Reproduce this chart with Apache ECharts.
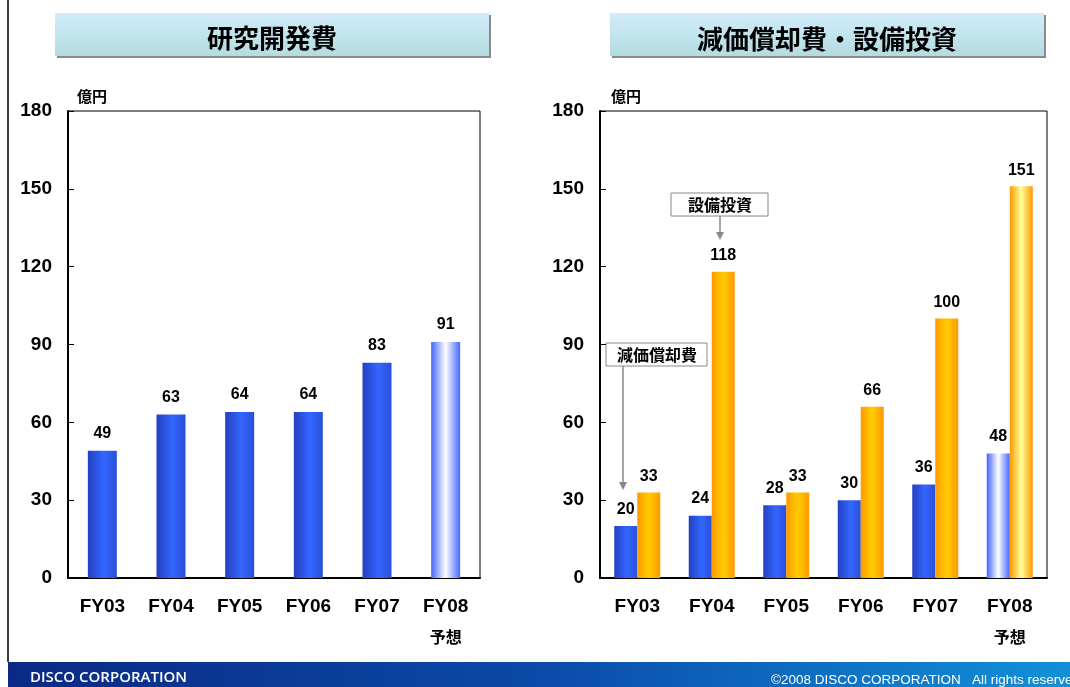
<!DOCTYPE html>
<html><head><meta charset="utf-8">
<script src="https://cdn.jsdelivr.net/npm/echarts@6/dist/echarts.min.js"></script>
<style>html,body{margin:0;padding:0;background:#fff}#c{width:1070px;height:687px}</style>
</head><body><div id="c"></div>
<script>
const categories = ['FY03','FY04','FY05','FY06','FY07','FY08'];
const rdValues = [49, 63, 64, 64, 83, 91];
const depValues = [20, 24, 28, 30, 36, 48];
const capexValues = [33, 118, 33, 66, 100, 151];
const yTicks = [0, 30, 60, 90, 120, 150, 180];

const FONT = '"Liberation Sans", Arial, "Noto Sans CJK JP", sans-serif';
const JFONT = '"Noto Sans CJK JP", sans-serif';

function grad(stops){
  return new echarts.graphic.LinearGradient(0,0,1,0, stops.map(s=>({offset:s[0],color:s[1]})));
}
const blue = grad([[0,'#2440c0'],[0.55,'#3366ff'],[1,'#2a4fd8']]);
const blueF = grad([[0,'#4466ff'],[0.5,'#ffffff'],[1,'#4466ff']]);
const orange = grad([[0,'#ff9900'],[0.5,'#ffcc00'],[1,'#ff9900']]);
const orangeF = grad([[0,'#ff9900'],[0.5,'#ffff99'],[1,'#ff9900']]);

function styled(vals, normal, fc){
  return vals.map((v,i)=>({value:v, itemStyle:{color: i===vals.length-1 ? fc : normal}}));
}

const labelStyle = {show:true, position:'top', color:'#000', fontWeight:'bold', fontSize:16, fontFamily:FONT};

function xAxis(gi){
  return {
    type:'category', gridIndex:gi, data:categories,
    axisLine:{lineStyle:{color:'#000', width:2}},
    axisTick:{inside:true, length:7, interval:0, lineStyle:{color:'#000'}},
    axisLabel:{margin:14, interval:0, color:'#000', fontWeight:'bold', fontSize:19, fontFamily:FONT,
      formatter:function(v){ return v==='FY08' ? '{a|FY08}\n{b|予想}' : '{a|'+v+'}'; },
      rich:{a:{fontWeight:'bold',fontSize:19,fontFamily:FONT,lineHeight:30,color:'#000'},
            b:{fontWeight:'bold',fontSize:16,fontFamily:JFONT,lineHeight:30,color:'#000'}}}
  };
}
function yAxis(gi){
  return {
    type:'value', gridIndex:gi, min:yTicks[0], max:yTicks[yTicks.length-1], interval:30,
    axisLine:{show:true, lineStyle:{color:'#000', width:2}},
    axisTick:{show:true, inside:true, length:6, lineStyle:{color:'#000'}},
    splitLine:{show:false},
    axisLabel:{margin:16, color:'#000', fontWeight:'bold', fontSize:19, fontFamily:FONT}
  };
}

const chart = echarts.init(document.getElementById('c'));
chart.setOption({
  animation:false,
  backgroundColor:'#fff',
  grid:[
    {left:68, top:111, width:412, height:467, show:true, borderColor:'#000', borderWidth:1, backgroundColor:'transparent'},
    {left:600, top:111, width:447, height:467, show:true, borderColor:'#000', borderWidth:1, backgroundColor:'transparent'}
  ],
  xAxis:[xAxis(0), xAxis(1)],
  yAxis:[yAxis(0), yAxis(1)],
  series:[
    {type:'bar', xAxisIndex:0, yAxisIndex:0, barWidth:29, data:styled(rdValues, blue, blueF),
     label:Object.assign({}, labelStyle, {distance:9})},
    {type:'bar', xAxisIndex:1, yAxisIndex:1, barWidth:23, barGap:'0%', data:styled(depValues, blue, blueF),
     label:Object.assign({}, labelStyle, {distance:9})},
    {type:'bar', xAxisIndex:1, yAxisIndex:1, barWidth:23, barGap:'0%', data:styled(capexValues, orange, orangeF),
     label:Object.assign({}, labelStyle, {distance:8})}
  ],
  graphic:[
    {type:'line', shape:{x1:8,y1:0,x2:8,y2:662}, style:{stroke:'#000', lineWidth:1.5}},
    {type:'rect', shape:{x:55,y:13,width:434,height:43},
     style:{fill:new echarts.graphic.LinearGradient(0,0,0,1,[{offset:0,color:'#d2ecfb'},{offset:1,color:'#b3dce0'}]),
       shadowColor:'#8a8a8a', shadowOffsetX:2, shadowOffsetY:2, shadowBlur:0}},
    {type:'text', x:272, y:38, style:{text:'研究開発費', font:'bold 26px '+JFONT, fill:'#000', align:'center', verticalAlign:'middle'}},
    {type:'rect', shape:{x:610,y:13,width:434,height:43},
     style:{fill:new echarts.graphic.LinearGradient(0,0,0,1,[{offset:0,color:'#d2ecfb'},{offset:1,color:'#b3dce0'}]),
       shadowColor:'#8a8a8a', shadowOffsetX:2, shadowOffsetY:2, shadowBlur:0}},
    {type:'text', x:827, y:39, style:{text:'減価償却費・設備投資', font:'bold 26px '+JFONT, fill:'#000', align:'center', verticalAlign:'middle'}},
    {type:'text', x:77, y:96, style:{text:'億円', font:'bold 15px '+JFONT, fill:'#000', verticalAlign:'middle'}},
    {type:'text', x:611, y:96, style:{text:'億円', font:'bold 15px '+JFONT, fill:'#000', verticalAlign:'middle'}},
    // annotation: 設備投資
    {type:'rect', shape:{x:671,y:193,width:97,height:23}, style:{fill:'#fff', stroke:'#888', lineWidth:1}},
    {type:'text', x:720, y:205, style:{text:'設備投資', font:'bold 16px '+JFONT, fill:'#000', align:'center', verticalAlign:'middle'}},
    {type:'line', shape:{x1:720,y1:216,x2:720,y2:232}, style:{stroke:'#888', lineWidth:1.5}},
    {type:'polygon', shape:{points:[[716,232],[724,232],[720,240]]}, style:{fill:'#888'}},
    // annotation: 減価償却費
    {type:'rect', shape:{x:606,y:343,width:101,height:23}, style:{fill:'#fff', stroke:'#888', lineWidth:1}},
    {type:'text', x:657, y:355, style:{text:'減価償却費', font:'bold 16px '+JFONT, fill:'#000', align:'center', verticalAlign:'middle'}},
    {type:'line', shape:{x1:623,y1:366,x2:623,y2:482}, style:{stroke:'#888', lineWidth:1.5}},
    {type:'polygon', shape:{points:[[619,482],[627,482],[623,490]]}, style:{fill:'#888'}},
    // footer
    {type:'rect', shape:{x:8,y:662,width:1062,height:25},
     style:{fill:new echarts.graphic.LinearGradient(0,0,1,0,[{offset:0,color:'#0a2a85'},{offset:0.5,color:'#0b4aa8'},{offset:1,color:'#1290d8'}])}},
    {type:'text', x:30, y:678, style:{text:'DISCO CORPORATION', font:'600 15px "Open Sans", sans-serif', fill:'#fff', verticalAlign:'middle'}},
    {type:'text', x:771, y:680, style:{text:'©2008 DISCO CORPORATION   All rights reserved', font:'13.5px "Liberation Sans", Arial, sans-serif', fill:'#fff', verticalAlign:'middle'}}
  ]
});
</script></body></html>
